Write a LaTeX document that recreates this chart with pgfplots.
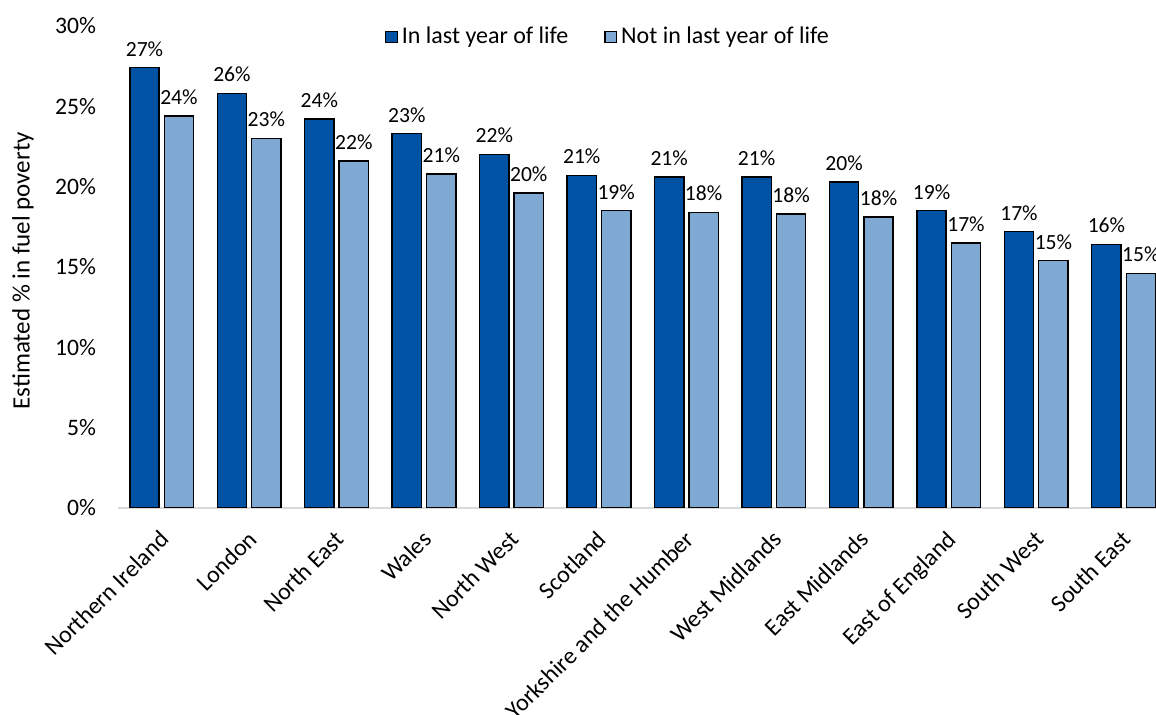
\documentclass[border=0pt]{standalone}
\usepackage{fontspec}
\setmainfont{Carlito}
\usepackage{pgfplots}
\usepackage{pgfplotstable}
\pgfplotsset{compat=1.18}
\definecolor{darkb}{HTML}{0052A5}
\definecolor{lightb}{HTML}{7FA9D3}
\definecolor{axgray}{HTML}{D9D9D9}
\pgfplotstableread{
x y lab
0 27.4 27
1 25.8 26
2 24.2 24
3 23.3 23
4 22.0 22
5 20.7 21
6 20.6 21
7 20.6 21
8 20.3 20
9 18.5 19
10 17.2 17
11 16.4 16
}\lastyear
\pgfplotstableread{
x y lab
0 24.4 24
1 23.0 23
2 21.6 22
3 20.8 21
4 19.6 20
5 18.5 19
6 18.4 18
7 18.3 18
8 18.1 18
9 16.5 17
10 15.4 15
11 14.6 15
}\notlastyear
\begin{document}
\begin{tikzpicture}
\begin{axis}[name=ax, scale only axis, width=519pt, height=241pt,
  xmin=-0.5, xmax=11.37, ymin=0, ymax=30,
  axis lines*=left,
  y axis line style={draw=none},
  x axis line style={draw=axgray, line width=1pt, -},
  major tick length=0pt,
  ytick={0,5,10,15,20,25,30},
  yticklabels={0\%,5\%,10\%,15\%,20\%,25\%,30\%},
  y tick label style={xshift=-7.5pt, font=\fontsize{11.8}{13}\selectfont},
  xtick={0,...,11},
  xticklabels={Northern Ireland,London,North East,Wales,North West,Scotland,Yorkshire and the Humber,West Midlands,East Midlands,East of England,South West,South East},
  x tick label style={rotate=45, anchor=north east, xshift=-5pt, yshift=-3pt, font=\fontsize{12}{14}\selectfont},
  ylabel={Estimated \% in fuel poverty},
  ylabel style={at={(axis description cs:-0.0915,0.492)}, anchor=center, font=\fontsize{12.5}{14}\selectfont},
  ybar, bar width=0.335,
  point meta=explicit symbolic,
  nodes near coords={\pgfplotspointmeta\%},
  every node near coord/.append style={font=\fontsize{10.8}{12}\selectfont, text=black, yshift=2pt},
  legend style={at={(0.473,0.977)}, anchor=center, draw=none, fill=none, legend columns=2, font=\fontsize{12}{14}\selectfont,
    /tikz/every even column/.append style={column sep=16pt}},
  legend image code/.code={\draw[#1, line width=0.6pt] (0pt,-2.9pt) rectangle (5.8pt,2.9pt);},
  legend cell align=left,
]
\addplot[fill=darkb, draw=black, line width=0.7pt, bar shift=-0.197] table[x=x,y=y,meta=lab] {\lastyear};
\addlegendentry{In last year of life}
\addplot[fill=lightb, draw=black, line width=0.7pt, bar shift=0.197] table[x=x,y=y,meta=lab] {\notlastyear};
\addlegendentry{Not in last year of life}
\end{axis}
\pgfresetboundingbox
\path[shift={(ax.south west)}] (-59pt,-103.5pt) rectangle (519pt,254pt);
\end{tikzpicture}
\end{document}
